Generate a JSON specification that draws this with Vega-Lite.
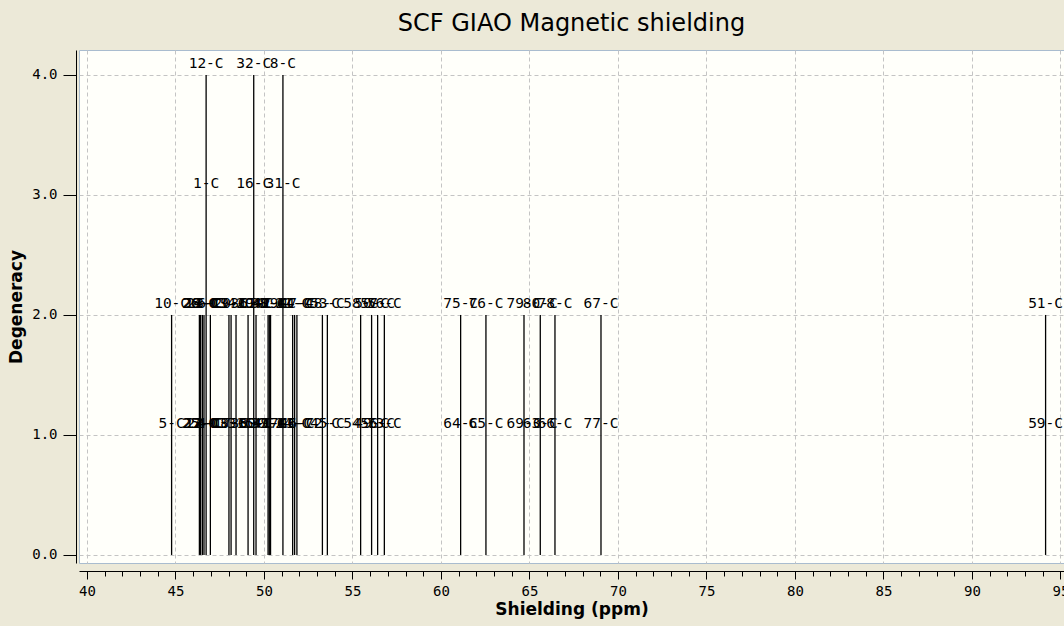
{
  "$schema": "https://vega.github.io/schema/vega-lite/v6.json",
  "width": 985,
  "height": 513,
  "autosize": "none",
  "padding": {"left": 79, "top": 50, "right": 0, "bottom": 63},
  "background": "#ece9d8",
  "config": {
    "view": {"fill": "#fffffa", "stroke": "#a9bccf", "strokeWidth": 1}
  },
  "title": {"text": "SCF GIAO Magnetic shielding", "font": "DejaVu Sans", "fontSize": 24, "fontWeight": "normal", "color": "#000000", "offset": 14, "anchor": "middle"},
  "datasets": {
    "lines": [
      {"s": 44.78, "d": 2}, {"s": 46.35, "d": 2}, {"s": 46.42, "d": 2}, {"s": 46.52, "d": 2}, {"s": 46.61, "d": 2},
      {"s": 46.73, "d": 4}, {"s": 46.97, "d": 2}, {"s": 48.02, "d": 2}, {"s": 48.14, "d": 2}, {"s": 48.42, "d": 2},
      {"s": 49.10, "d": 2}, {"s": 49.42, "d": 4}, {"s": 49.55, "d": 2}, {"s": 50.23, "d": 2}, {"s": 50.30, "d": 2},
      {"s": 50.37, "d": 2}, {"s": 51.07, "d": 4}, {"s": 51.62, "d": 2}, {"s": 51.73, "d": 2}, {"s": 51.86, "d": 2},
      {"s": 53.30, "d": 2}, {"s": 53.58, "d": 2}, {"s": 55.46, "d": 2}, {"s": 56.08, "d": 2}, {"s": 56.42, "d": 2},
      {"s": 56.80, "d": 2}, {"s": 61.11, "d": 2}, {"s": 62.54, "d": 2}, {"s": 64.69, "d": 2}, {"s": 65.61, "d": 2},
      {"s": 66.44, "d": 2}, {"s": 69.04, "d": 2}, {"s": 94.16, "d": 2}
    ],
    "labels": [
      {"s": 44.78, "lvl": 1, "t": "5-C"}, {"s": 44.78, "lvl": 2, "t": "10-C"},
      {"s": 46.35, "lvl": 1, "t": "25-C"}, {"s": 46.35, "lvl": 2, "t": "26-C"},
      {"s": 46.42, "lvl": 1, "t": "27-C"}, {"s": 46.42, "lvl": 2, "t": "28-C"},
      {"s": 46.52, "lvl": 1, "t": "13-C"}, {"s": 46.52, "lvl": 2, "t": "14-C"},
      {"s": 46.61, "lvl": 1, "t": "22-C"}, {"s": 46.61, "lvl": 2, "t": "23-C"},
      {"s": 46.73, "lvl": 1, "t": "2-C"}, {"s": 46.73, "lvl": 2, "t": "3-C"}, {"s": 46.73, "lvl": 3, "t": "1-C"}, {"s": 46.73, "lvl": 4, "t": "12-C"},
      {"s": 46.97, "lvl": 1, "t": "4-C"}, {"s": 46.97, "lvl": 2, "t": "6-C"},
      {"s": 48.02, "lvl": 1, "t": "18-C"}, {"s": 48.02, "lvl": 2, "t": "19-C"},
      {"s": 48.14, "lvl": 1, "t": "17-C"}, {"s": 48.14, "lvl": 2, "t": "20-C"},
      {"s": 48.42, "lvl": 1, "t": "33-C"}, {"s": 48.42, "lvl": 2, "t": "34-C"},
      {"s": 49.10, "lvl": 1, "t": "35-C"}, {"s": 49.10, "lvl": 2, "t": "36-C"},
      {"s": 49.42, "lvl": 1, "t": "15-C"}, {"s": 49.42, "lvl": 2, "t": "29-C"}, {"s": 49.42, "lvl": 3, "t": "16-C"}, {"s": 49.42, "lvl": 4, "t": "32-C"},
      {"s": 49.55, "lvl": 1, "t": "30-C"}, {"s": 49.55, "lvl": 2, "t": "11-C"},
      {"s": 50.23, "lvl": 1, "t": "37-C"}, {"s": 50.23, "lvl": 2, "t": "38-C"},
      {"s": 50.30, "lvl": 1, "t": "39-C"}, {"s": 50.30, "lvl": 2, "t": "40-C"},
      {"s": 50.37, "lvl": 1, "t": "41-C"}, {"s": 50.37, "lvl": 2, "t": "42-C"},
      {"s": 51.07, "lvl": 1, "t": "7-C"}, {"s": 51.07, "lvl": 2, "t": "9-C"}, {"s": 51.07, "lvl": 3, "t": "31-C"}, {"s": 51.07, "lvl": 4, "t": "8-C"},
      {"s": 51.62, "lvl": 1, "t": "24-C"}, {"s": 51.62, "lvl": 2, "t": "21-C"},
      {"s": 51.73, "lvl": 1, "t": "43-C"}, {"s": 51.73, "lvl": 2, "t": "44-C"},
      {"s": 51.86, "lvl": 1, "t": "46-C"}, {"s": 51.86, "lvl": 2, "t": "47-C"},
      {"s": 53.30, "lvl": 1, "t": "72-C"}, {"s": 53.30, "lvl": 2, "t": "48-C"},
      {"s": 53.58, "lvl": 1, "t": "45-C"}, {"s": 53.58, "lvl": 2, "t": "53-C"},
      {"s": 55.46, "lvl": 1, "t": "54-C"}, {"s": 55.46, "lvl": 2, "t": "58-C"},
      {"s": 56.08, "lvl": 1, "t": "49-C"}, {"s": 56.08, "lvl": 2, "t": "50-C"},
      {"s": 56.42, "lvl": 1, "t": "55-C"}, {"s": 56.42, "lvl": 2, "t": "57-C"},
      {"s": 56.80, "lvl": 1, "t": "73-C"}, {"s": 56.80, "lvl": 2, "t": "56-C"},
      {"s": 61.11, "lvl": 1, "t": "64-C"}, {"s": 61.11, "lvl": 2, "t": "75-C"},
      {"s": 62.54, "lvl": 1, "t": "65-C"}, {"s": 62.54, "lvl": 2, "t": "76-C"},
      {"s": 64.69, "lvl": 1, "t": "69-C"}, {"s": 64.69, "lvl": 2, "t": "79-C"},
      {"s": 65.61, "lvl": 1, "t": "63-C"}, {"s": 65.61, "lvl": 2, "t": "80-C"},
      {"s": 66.44, "lvl": 1, "t": "66-C"}, {"s": 66.44, "lvl": 2, "t": "78-C"},
      {"s": 69.04, "lvl": 1, "t": "77-C"}, {"s": 69.04, "lvl": 2, "t": "67-C"},
      {"s": 94.16, "lvl": 1, "t": "59-C"}, {"s": 94.16, "lvl": 2, "t": "51-C"}
    ]
  },
  "layer": [
    {
      "data": {"name": "lines"},
      "mark": {"type": "rule", "color": "#000000", "strokeWidth": 1.3},
      "encoding": {
        "x": {
          "field": "s", "type": "quantitative",
          "scale": {"domain": [39.548, 95.2], "nice": false, "zero": false},
          "axis": {
            "values": [40,41,42,43,44,45,46,47,48,49,50,51,52,53,54,55,56,57,58,59,60,61,62,63,64,65,66,67,68,69,70,71,72,73,74,75,76,77,78,79,80,81,82,83,84,85,86,87,88,89,90,91,92,93,94,95],
            "tickCount": 200,
            "format": "d",
            "labelExpr": "datum.value % 5 === 0 ? datum.label : ''",
            "tickSize": {"condition": {"test": "datum.value % 5 === 0", "value": 8}, "value": 5},
            "gridOpacity": {"condition": {"test": "datum.value % 5 === 0", "value": 1}, "value": 0},
            "grid": true, "gridColor": "#c4c4c4", "gridDash": [4, 3], "gridWidth": 1,
            "offset": 8, "domainColor": "#000000", "tickColor": "#000000",
            "labelFont": "DejaVu Sans Mono", "labelFontSize": 14, "labelColor": "#000000", "labelPadding": 5, "labelOverlap": false, "labelFlush": false,
            "title": "Shielding (ppm)", "titleFont": "DejaVu Sans", "titleFontSize": 17, "titleFontWeight": "bold", "titleColor": "#000000", "titlePadding": 3
          }
        },
        "y": {
          "field": "d", "type": "quantitative",
          "scale": {"domain": [-0.067, 4.208], "nice": false, "zero": false},
          "axis": {
            "values": [0, 1, 2, 3, 4],
            "format": ".1f",
            "grid": true, "gridColor": "#c4c4c4", "gridDash": [4, 3], "gridWidth": 1,
            "offset": 3, "tickSize": 13, "domainColor": "#000000", "tickColor": "#000000",
            "labelFont": "DejaVu Sans Mono", "labelFontSize": 14, "labelColor": "#000000", "labelPadding": 6,
            "title": "Degeneracy", "titleFont": "DejaVu Sans", "titleFontSize": 17, "titleFontWeight": "bold", "titleColor": "#000000", "titlePadding": 6
          }
        },
        "y2": {"datum": 0}
      }
    },
    {
      "data": {"name": "labels"},
      "mark": {"type": "text", "font": "DejaVu Sans Mono", "fontSize": 14.5, "color": "#000000", "align": "center", "baseline": "alphabetic", "dy": -7},
      "encoding": {
        "x": {"field": "s", "type": "quantitative"},
        "y": {"field": "lvl", "type": "quantitative"},
        "text": {"field": "t"}
      }
    }
  ]
}
